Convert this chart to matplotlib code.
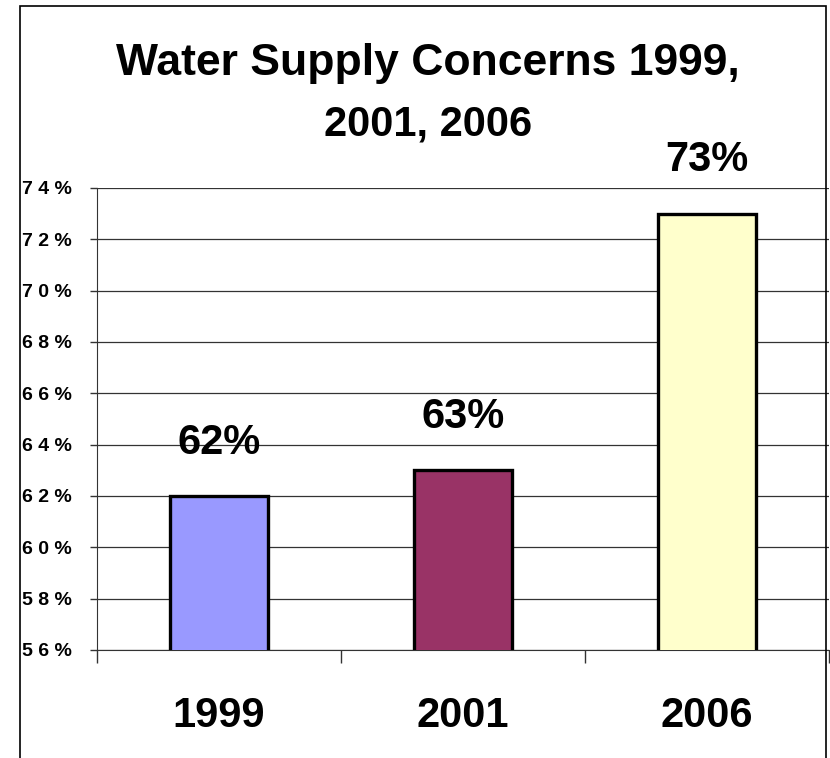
import matplotlib.pyplot as plt
from matplotlib.patches import Rectangle

plt.rcParams["font.family"] = ["Liberation Sans", "DejaVu Sans"]
plt.rcParams["font.weight"] = "bold"

years = ["1999", "2001", "2006"]
concern_pct = [62, 63, 73]
bar_colors = ["#9999FF", "#993366", "#FFFFCC"]
y_ticks = [56, 58, 60, 62, 64, 66, 68, 70, 72, 74]

fig = plt.figure(figsize=(8.3, 7.58), dpi=100)
ax = fig.add_axes([97 / 830, 108 / 758, 732 / 830, 462 / 758])

x = list(range(len(years)))
ax.bar(x, concern_pct, width=0.4, color=bar_colors, edgecolor="black",
       linewidth=2.4, zorder=3)

for xi, v in zip(x, concern_pct):
    ax.annotate(f"{v}%", (xi, v), xytext=(0, 30.5), textcoords="offset points",
                ha="center", va="baseline", fontsize=30, fontweight="bold",
                zorder=4, annotation_clip=False)

ax.set_xlim(-0.5, 2.5)
ax.set_ylim(56, 74)

# y axis: spaced percent labels, horizontal grid
ax.set_yticks(y_ticks)
ax.set_yticklabels([" ".join(f"{t}%") for t in y_ticks], fontsize=14,
                   fontweight="bold")
ax.tick_params(axis="y", length=5, width=1, pad=13, color="#333333")
ax.yaxis.grid(True, color="#333333", linewidth=0.9, zorder=0)

# x axis: labels at bar centres, tick marks on category boundaries
ax.set_xticks(x)
ax.set_xticklabels(years, fontsize=30, fontweight="bold")
ax.set_xticks([-0.5, 0.5, 1.5, 2.5], minor=True)
ax.tick_params(axis="x", which="major", length=0, pad=33)
ax.tick_params(axis="x", which="minor", length=9, width=1, color="#333333")

for side in ["top", "right"]:
    ax.spines[side].set_visible(False)
ax.spines["left"].set_color("#333333")
ax.spines["bottom"].set_color("#333333")
ax.set_axisbelow(True)

fig.text(428 / 830, 1 - 75 / 758, "Water Supply Concerns 1999,", ha="center",
         va="baseline", fontsize=32, fontweight="bold")
fig.text(428 / 830, 1 - 135 / 758, "2001, 2006", ha="center",
         va="baseline", fontsize=30, fontweight="bold")

# outer chart frame
fig.patches.append(Rectangle((20 / 830, -0.05), 806 / 830, 1.05 - 6 / 758,
                             transform=fig.transFigure, fill=False,
                             edgecolor="black", linewidth=1.2))

fig.savefig("out.png", dpi=100)
